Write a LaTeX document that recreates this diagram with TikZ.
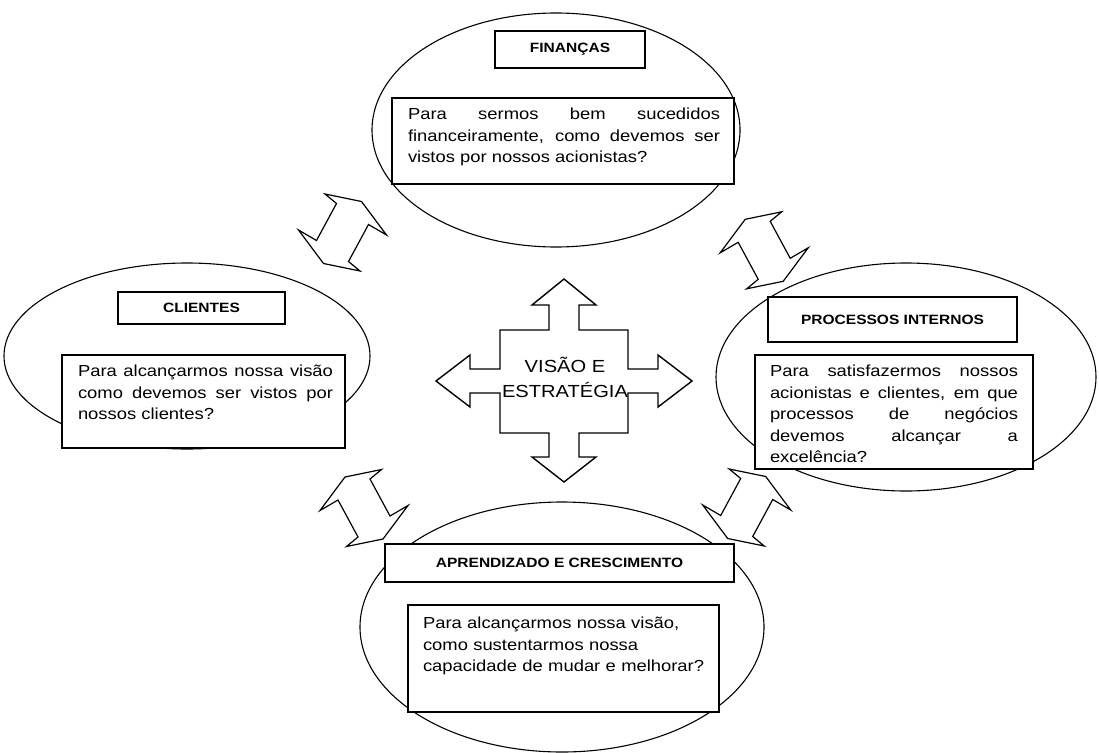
\documentclass[tikz,border=0pt]{standalone}
\usepackage{fontspec}
\setmainfont{Liberation Sans}[FakeStretch=1.15]
\usetikzlibrary{shapes.geometric}

\tikzset{
  pics/twoway/.style={code={%
    % double block arrow with swept-back barbs; #1 = 1 or -1 (mirror)
    \draw[arrowline, xscale=#1]
      (-17.5,-38.5) -- (19,-31) -- (44,2.5) -- (26,-8) -- (6,29)
      -- (17.5,38.5) -- (-19,31) -- (-44,-2.5) -- (-26,8) -- (-6,-29) -- cycle;
  }},
}

\begin{document}
\tolerance=9999
\hyphenpenalty=10000
\begin{tikzpicture}[x=1pt, y=-1pt,
  every node/.style={inner sep=0pt, outer sep=0pt},
  oval/.style={draw, ellipse, line width=1.1pt},
  header/.style={draw, fill=white, line width=1.4pt,
    font=\bfseries\fontsize{13.5}{16}\selectfont},
  qbox/.style={draw, fill=white, line width=1.4pt, anchor=north west},
  qtext/.style={anchor=north west, text width=#1,
    font=\fontsize{16}{21.5}\selectfont},
  arrowline/.style={line width=1.2pt, line join=miter},
  crossline/.style={draw, line width=1.4pt, fill=white},
]
\useasboundingbox (0,0) rectangle (1099,752);

% the four perspective ovals
\node[oval, minimum width=368pt, minimum height=234pt] (finoval) at (556,130) {};
\node[oval, minimum width=366pt, minimum height=186pt] (clioval) at (187,356) {};
\node[oval, minimum width=380pt, minimum height=228pt] (prooval) at (906,377) {};
\node[oval, minimum width=404pt, minimum height=250pt] (aproval) at (562,627) {};

% headers
\node[header, minimum width=150pt, minimum height=37pt] (finhead) at (570,49.5) {FINANÇAS};
\node[header, minimum width=167pt, minimum height=32pt] (clihead) at (201.5,308) {CLIENTES};
\node[header, minimum width=249pt, minimum height=45pt] (prohead) at (892.5,319.5) {PROCESSOS INTERNOS};
\node[header, minimum width=349pt, minimum height=38pt] (aprhead) at (559.5,563) {APRENDIZADO E CRESCIMENTO};

% question boxes
\node[qbox, minimum width=342pt, minimum height=86pt] (finbox) at (392,98) {};
\node[qbox, minimum width=283pt, minimum height=93pt] (clibox) at (62,355) {};
\node[qbox, minimum width=278pt, minimum height=114pt] (probox) at (755,355) {};
\node[qbox, minimum width=311pt, minimum height=107pt] (aprbox) at (408,605) {};

\node[qtext=312pt, align=justify] (fintext) at ([xshift=16pt, yshift=-10.3pt]finbox.north west)
  {Para sermos bem sucedidos\linebreak financeiramente, como devemos ser\linebreak vistos por nossos acionistas?};
\node[qtext=255pt, align=justify] (clitext) at ([xshift=16pt, yshift=-10.3pt]clibox.north west)
  {Para alcançarmos nossa visão\linebreak como devemos ser vistos por\linebreak nossos clientes?};
\node[qtext=248pt, align=justify] (protext) at ([xshift=15pt, yshift=-10.3pt]probox.north west)
  {Para satisfazermos nossos\linebreak acionistas e clientes, em que\linebreak processos de negócios\linebreak devemos alcançar a\linebreak excelência?};
\node[qtext=290pt, align=left] (aprtext) at ([xshift=15pt, yshift=-12.3pt]aprbox.north west)
  {Para alcançarmos nossa visão,\\como sustentarmos nossa\\capacidade de mudar e melhorar?};

% links between the perspectives
\pic at (342.5,232.5) {twoway=1};
\pic at (764.2,250.3) {twoway=-1};
\pic at (746.7,507.5) {twoway=1};
\pic at (364,508) {twoway=-1};

% central four-way arrow
\path[crossline]
  (564,279) -- (596,305) -- (579,305) -- (579,330) -- (628,330) -- (628,369)
  -- (658,369) -- (658,355) -- (692,381) -- (658,407) -- (658,393) -- (628,393)
  -- (628,433) -- (579,433) -- (579,457) -- (596,457) -- (564,482) -- (532,457)
  -- (549,457) -- (549,433) -- (500,433) -- (500,393) -- (470,393) -- (470,407)
  -- (436,381) -- (470,355) -- (470,369) -- (500,369) -- (500,330) -- (549,330)
  -- (549,305) -- (532,305) -- cycle;
\node[align=center, font=\fontsize{17.5}{25}\selectfont] (vision) at (565,377)
  {VISÃO E\\ESTRATÉGIA};
\end{tikzpicture}
\end{document}
